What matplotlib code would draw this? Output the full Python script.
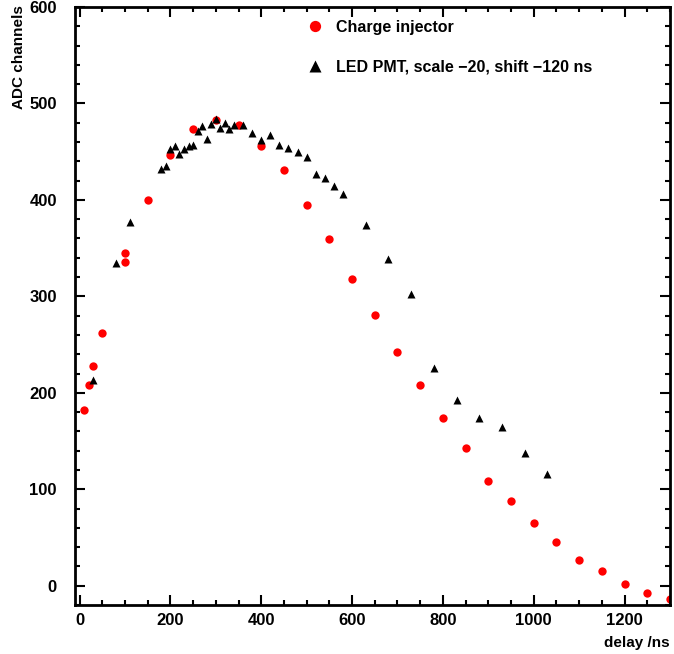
import matplotlib
matplotlib.use("Agg")
import matplotlib.pyplot as plt
from matplotlib.ticker import MultipleLocator

# Charge injector scan
ci_delay = [10, 20, 30, 50, 100, 100, 150, 200, 250, 300, 350, 400, 450, 500,
            550, 600, 650, 700, 750, 800, 850, 900, 950, 1000, 1050, 1100,
            1150, 1200, 1250, 1300]
ci_adc = [182, 208, 228, 262, 345, 336, 400, 447, 473, 483, 478, 456, 431, 395,
          359, 318, 281, 242, 208, 174, 143, 109, 88, 65, 45, 27,
          15, 2, -8, -14]

# LED PMT scan (scaled and shifted)
led_delay = [30, 80, 110, 180, 190, 200, 210, 220, 230, 240, 250, 260, 270, 280,
             290, 300, 310, 320, 330, 340, 360, 380, 400, 420, 440, 460, 480,
             500, 520, 540, 560, 580, 630, 680, 730, 780, 830, 880, 930, 980,
             1030]
led_adc = [213, 335, 377, 432, 435, 453, 456, 448, 453, 456, 457, 471, 477, 463,
           479, 484, 475, 480, 473, 478, 478, 469, 462, 467, 457, 454, 450,
           444, 427, 423, 414, 406, 374, 339, 302, 226, 193, 174, 165, 138,
           116]

ci_label = "Charge injector"
led_label = "LED PMT, scale \u221220, shift \u2212120 ns"

plt.rcParams["font.family"] = ["Liberation Sans", "DejaVu Sans"]
plt.rcParams["font.weight"] = "bold"
plt.rcParams["axes.labelweight"] = "bold"

W, H = 674, 654
fig = plt.figure(figsize=(W / 100, H / 100), dpi=100)
left, right, top, bottom = 75, 670, 7, 605
ax = fig.add_axes([left / W, 1 - bottom / H, (right - left) / W, (bottom - top) / H])

ci, = ax.plot(ci_delay, ci_adc, "o", color="#ff0000", ms=6, mec="none", label=ci_label)
led, = ax.plot(led_delay, led_adc, "^", color="black", ms=6, mec="none", label=led_label)

ax.set_xlim(-10, 1300)
ax.set_ylim(-20, 600)

ax.xaxis.set_major_locator(MultipleLocator(200))
ax.xaxis.set_minor_locator(MultipleLocator(50))
ax.yaxis.set_major_locator(MultipleLocator(100))
ax.yaxis.set_minor_locator(MultipleLocator(20))

for s in ax.spines.values():
    s.set_linewidth(2.0)

ax.tick_params(which="both", direction="in", top=True, right=True, width=1.5,
               labelsize=12, colors="black")
ax.tick_params(which="major", length=7)
ax.tick_params(which="minor", length=3.5)
ax.tick_params(axis="y", which="major", pad=13)
ax.tick_params(axis="x", which="major", pad=6)
ax.tick_params(labeltop=False, labelright=False)

ax.set_xlabel("delay /ns", fontsize=11, loc="right")
ax.xaxis.set_label_coords(1.0, -(636 - bottom) / (bottom - top))
ax.set_ylabel("ADC channels", fontsize=11, loc="top")
ax.yaxis.set_label_coords((26 - left) / (right - left), 1.003)

leg = ax.legend(handles=[ci, led], loc="upper left", frameon=False,
                bbox_to_anchor=((307 - left) / (right - left), (bottom - 20) / (bottom - top)),
                fontsize=11.5, handlelength=0.95, handletextpad=0.85, borderpad=0,
                borderaxespad=0, labelspacing=1.55, markerscale=1.35, numpoints=1)

fig.savefig("out.png", dpi=100)
